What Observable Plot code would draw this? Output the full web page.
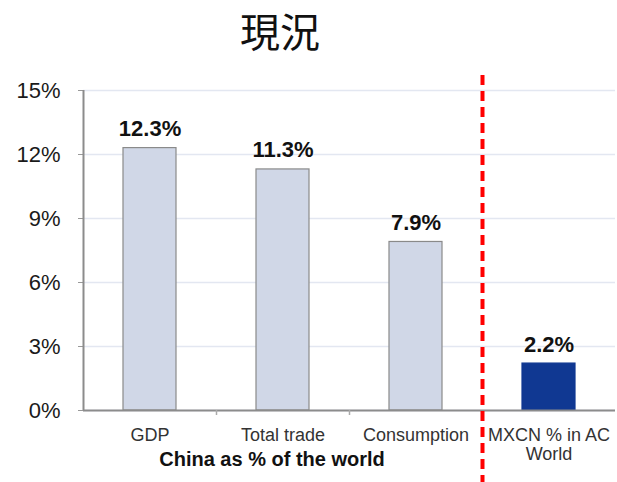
<!DOCTYPE html>
<html>
<head>
<meta charset="utf-8">
<script src="https://cdn.jsdelivr.net/npm/d3@7"></script>
<script src="https://cdn.jsdelivr.net/npm/@observablehq/plot@0.6"></script>
<style>
  html, body { margin: 0; padding: 0; background: #fff; }
  #title { width: 617px; height: 60px; line-height: 60px; box-sizing: border-box; padding-right: 57px;
           text-align: center; font-family: "Noto Sans CJK TC", "Noto Sans CJK SC", sans-serif;
           font-size: 40px; color: #111; }
  #chart svg { display: block; }
</style>
</head>
<body>
<div id="title"></div>
<div id="chart"></div>
<script>
const titleText = "現況";
const categories = ["GDP", "Total trade", "Consumption", "MXCN % in AC\nWorld"];
const values = [12.3, 11.3, 7.9, 2.2];
const highlight = [false, false, false, true];
const yTicks = [0, 3, 6, 9, 12, 15];
const groupLabel = "China as % of the world";

document.getElementById("title").textContent = titleText;

const data = categories.map((c, i) => ({cat: c, v: values[i], hi: highlight[i]}));

const W = 617, H = 422, mL = 83, mR = 2, mT = 30, mB = 72;
const step = (W - mL - mR) / categories.length;
const half = step / 2;
const pxPerUnit = (H - mT - mB) / 15;
const dividerTop = 15 + 15 / pxPerUnit;          // a little above the 15% line
const dividerBottom = -mB / pxPerUnit;           // down to the bottom edge

const plot = Plot.plot({
  width: W, height: H,
  marginLeft: mL, marginRight: mR, marginTop: mT, marginBottom: mB,
  style: {fontFamily: "'Liberation Sans', Arial, sans-serif", color: "#222", background: "#fff", overflow: "visible"},
  x: {domain: categories, paddingInner: 0.6, paddingOuter: 0.3, label: null},
  y: {domain: [0, 15], label: null},
  marks: [
    Plot.gridY(yTicks, {stroke: "#e3e7f1", strokeOpacity: 1, strokeWidth: 1.5}),
    Plot.axisY(yTicks, {tickFormat: d => d + "%", tickSize: 5, tickPadding: 18, fontSize: 22, stroke: "#999", fill: "#1a1a1a", label: null}),
    Plot.axisX({tickSize: 0, tickPadding: 16, fontSize: 18, fill: "#333", lineHeight: 1.1, label: null}),
    Plot.barY(data, {x: "cat", y: "v", fill: d => d.hi ? "#103892" : "#d0d7e7",
                     stroke: d => d.hi ? "#103892" : "#8a8a8a", strokeWidth: 1.2}),
    // y axis line
    Plot.ruleX([categories[0]], {dx: -half, y1: 0, y2: 15, stroke: "#8c8c8c", strokeWidth: 2}),
    // baseline
    Plot.ruleY([0], {stroke: "#8c8c8c", strokeWidth: 2}),
    // category boundary ticks
    Plot.ruleX([categories[1], categories[2]], {dx: -half, y1: 0, y2: -5 / pxPerUnit, stroke: "#aaa", strokeWidth: 1.5}),
    // value labels
    Plot.text(data, {x: "cat", y: "v", text: d => d.v.toFixed(1) + "%", dy: -19, fontSize: 22,
                     fontWeight: "bold", fill: "#111"}),
    // group label
    Plot.text([groupLabel], {x: () => categories[1], frameAnchor: "bottom", dy: 55, dx: -11,
                             fontSize: 20, fontWeight: "bold", fill: "#111"}),
    // red dashed divider
    Plot.ruleX([categories[3]], {dx: -half, y1: dividerTop, y2: dividerBottom, stroke: "#ff0000",
                                 strokeWidth: 4, strokeDasharray: "10,6"})
  ]
});
document.getElementById("chart").appendChild(plot);
</script>
</body>
</html>
